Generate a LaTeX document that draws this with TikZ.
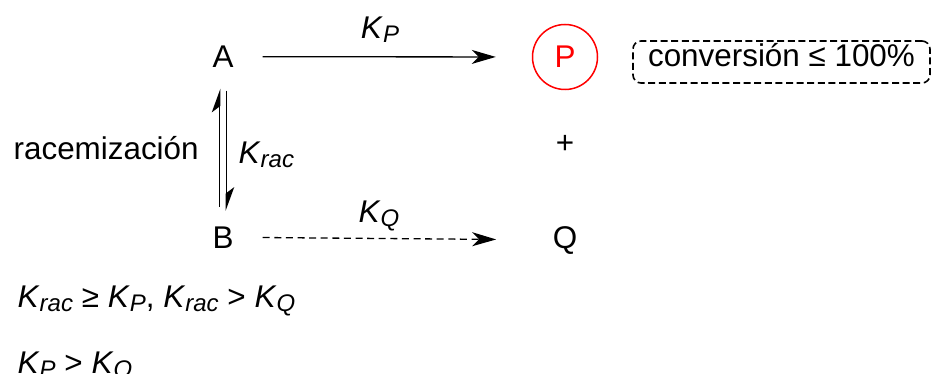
\documentclass[tikz,border=0pt]{standalone}
\usepackage{fontspec}
\setmainfont{Liberation Sans}
\usetikzlibrary{arrows.meta}
\newcommand{\kin}[1]{\textit{K}\raisebox{-2pt}{\fontsize{12}{12}\selectfont\textit{#1}}}

\begin{document}
\begin{tikzpicture}[x=0.5pt, y=-0.5pt, font=\fontsize{15.7}{18}\selectfont,
  >={Stealth[length=12pt, width=7pt, inset=3.5pt]}, line width=0.65pt,
  mol/.style={inner sep=0pt, anchor=base},
  rate/.style={inner sep=0pt, anchor=base},
  txt/.style={inner sep=0pt, anchor=base west},
  half/.style={-{Stealth[left, length=11pt, width=8pt, inset=3pt]}}]
  \useasboundingbox (0,0) rectangle (931,374);
  \node[mol] (A) at (223,67.5) {A};
  \node[mol] (B) at (223,248) {B};
  \node[circle, draw=red, text=red, line width=0.75pt, minimum size=32.5pt, inner sep=0pt] (P) at (565,57) {P};
  \node[mol] (Q) at (565,248) {Q};
  \node (plus) at (565,144) {+};
  \node[anchor=base, draw, dash pattern=on 3.5pt off 1.8pt, rounded corners=4pt, line width=0.8pt,
    minimum width=148.5pt, inner ysep=2pt, text height=11pt, text depth=6pt] (conv) at (781.5,67) {conversión ≤ 100\%};
  % reactions
  \draw[->, shorten <=14.3pt, shorten >=18pt] (A) -- (P);
  \draw[->, dash pattern=on 3.5pt off 2.3pt, shorten <=14.3pt, shorten >=28pt] (B) -- (Q);
  \node[rate] (kp) at (380,39) {\kin{P}};
  \node[rate] (kq) at (379,222) {\kin{Q}};
  % racemization
  \draw[half, shorten <=9.4pt, shorten >=10.2pt] ([xshift=-1.6pt]B.north) -- ([xshift=-1.6pt]A.south);
  \draw[half, shorten <=11.2pt, shorten >=7.4pt] ([xshift=1.6pt]A.south) -- ([xshift=1.6pt]B.north);
  \node[txt] (rac) at (13,159) {racemización};
  \node[txt] (krac) at (238,163) {\kin{rac}};
  % conditions
  \node[txt] (c1) at (17,307) {\kin{rac} ≥ \kin{P}, \kin{rac} > \kin{Q}};
  \node[txt] (c2) at (17,373) {\kin{P} > \kin{Q}};
\end{tikzpicture}
\end{document}
